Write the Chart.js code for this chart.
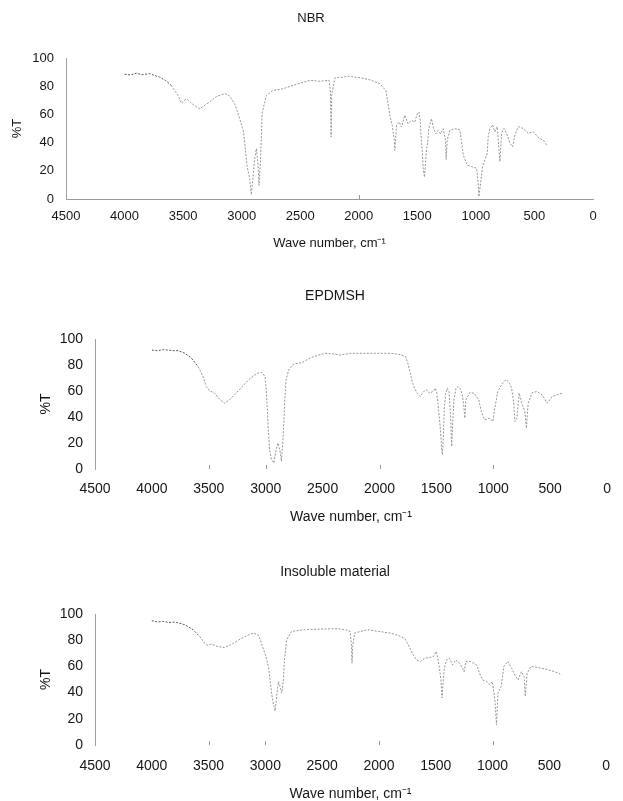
<!DOCTYPE html>
<html>
<head>
<meta charset="utf-8">
<script src="https://cdn.jsdelivr.net/npm/chart.js@4.4.1/dist/chart.umd.min.js"></script>
<style>
  html, body { margin: 0; padding: 0; background: #fff; }
  body { width: 623px; height: 801px; position: relative; overflow: hidden; }
  .panel { position: absolute; left: 0; width: 623px; }
  canvas { display: block; }
</style>
</head>
<body>
<div class="panel" style="top:0px;height:260px"><canvas id="nbr" width="623" height="260"></canvas></div>
<div class="panel" style="top:260px;height:270px"><canvas id="epdm" width="623" height="270"></canvas></div>
<div class="panel" style="top:530px;height:271px"><canvas id="insol" width="623" height="271"></canvas></div>
<script>
// FT-IR transmission spectra (wave number in cm-1, transmittance in %)
const xTicks = [4500, 4000, 3500, 3000, 2500, 2000, 1500, 1000, 500, 0];
const yTicks = [0, 20, 40, 60, 80, 100];

const nbrWave = [4000, 3950, 3900, 3850, 3786, 3740, 3701, 3650, 3601, 3544, 3515, 3490, 3467, 3416, 3359, 3274, 3216, 3145, 3108, 3060, 3017, 2983, 2966, 2955, 2932, 2917, 2903, 2889, 2874, 2860, 2852, 2840, 2831, 2826, 2789, 2732, 2647, 2561, 2419, 2333, 2254, 2242, 2236, 2231, 2205, 2091, 1991, 1906, 1821, 1769, 1750, 1735, 1715, 1698, 1692, 1678, 1655, 1635, 1607, 1579, 1550, 1521, 1501, 1485, 1473, 1464, 1456, 1450, 1439, 1430, 1421, 1413, 1402, 1379, 1365, 1342, 1322, 1302, 1279, 1259, 1254, 1245, 1222, 1179, 1137, 1122, 1108, 1074, 1036, 994, 980, 974, 960, 943, 923, 903, 895, 880, 857, 838, 818, 803, 795, 780, 761, 738, 709, 686, 667, 638, 596, 553, 510, 459, 425, 396];
const nbrT = [88.5, 88, 89.2, 88.2, 88.9, 87.5, 86.5, 84, 80.6, 73.5, 68, 70, 71, 67, 64, 68.8, 72.6, 74.7, 73.5, 67.6, 57, 47.5, 33, 24, 14.4, 3, 15.6, 28.6, 35.7, 24, 9.7, 26, 45, 60.5, 73.5, 77, 78.2, 80.6, 84.2, 83.5, 84.2, 75.9, 44, 73.5, 85.8, 87, 86, 84.6, 81.8, 77, 67.6, 59.4, 52.3, 42.8, 34.5, 52.3, 54.6, 51, 59.4, 53.4, 55.8, 54.6, 60.5, 61.7, 53.4, 39.2, 32, 21.5, 15.5, 26, 35.7, 39, 49.9, 57, 51, 46.3, 48.7, 46.3, 49.9, 41.6, 28, 41.6, 48.7, 49.9, 49, 40.4, 31.2, 24, 22.9, 21.8, 11.1, 1.6, 11.1, 22.9, 27.7, 32.4, 44.2, 50, 52.5, 47.7, 51.3, 34.8, 26.5, 46.6, 50, 46.6, 39.5, 37, 45.4, 51.3, 50, 46.6, 47.7, 43, 41.8, 38.3];

const epdmWave = [4000, 3950, 3900, 3869, 3820, 3767, 3709, 3652, 3594, 3550, 3522, 3492, 3449, 3400, 3362, 3319, 3232, 3145, 3073, 3030, 3006, 2995, 2986, 2977, 2966, 2949, 2928, 2914, 2893, 2876, 2862, 2850, 2841, 2832, 2821, 2798, 2754, 2682, 2595, 2480, 2393, 2350, 2248, 2046, 1901, 1814, 1771, 1751, 1733, 1713, 1693, 1669, 1641, 1612, 1583, 1560, 1530, 1510, 1496, 1481, 1467, 1455, 1447, 1438, 1430, 1418, 1404, 1389, 1374, 1366, 1357, 1346, 1328, 1308, 1287, 1270, 1259, 1250, 1241, 1207, 1169, 1128, 1105, 1076, 1033, 1004, 990, 961, 918, 888, 859, 839, 822, 810, 793, 773, 744, 723, 709, 694, 657, 614, 570, 527, 483, 440, 397];
const epdmT = [91.5, 91, 91.8, 91.6, 91, 91, 89, 85.2, 78.7, 71, 63.4, 60.3, 58.3, 53.2, 50.6, 53.2, 60.9, 69, 73.7, 74.1, 71, 60.9, 45.5, 30.2, 14.8, 7.1, 4.6, 12.3, 20, 14.8, 6, 20, 35.3, 53.2, 68.5, 76.2, 80.8, 81.8, 86, 89, 88.5, 87.7, 89, 89, 89, 88, 86.4, 81.3, 74.9, 67.2, 62.2, 58.3, 55.7, 59.6, 60.9, 58.3, 59.6, 62.2, 58.3, 45.5, 32.7, 17.3, 11, 27.6, 48, 58.3, 62.2, 59.6, 37.8, 17.3, 35.3, 53.2, 62.2, 63.4, 61.4, 55.7, 48, 39.1, 53.2, 58.8, 58.3, 53.2, 44.2, 37.8, 39.1, 36.5, 45, 59.6, 66, 69, 66, 62.2, 51.9, 36.5, 39.1, 58.3, 49.3, 44.2, 31.4, 50.6, 58.8, 59.6, 57, 50.6, 55.7, 57, 58.3];

const insolWave = [4000, 3950, 3898, 3850, 3796, 3709, 3637, 3579, 3536, 3507, 3478, 3420, 3362, 3305, 3232, 3160, 3102, 3058, 3030, 2995, 2971, 2957, 2943, 2928, 2914, 2899, 2885, 2871, 2856, 2841, 2832, 2812, 2769, 2654, 2509, 2364, 2292, 2254, 2242, 2237, 2231, 2214, 2103, 2003, 1901, 1829, 1771, 1727, 1699, 1669, 1635, 1597, 1554, 1519, 1496, 1482, 1467, 1453, 1444, 1435, 1424, 1404, 1380, 1352, 1322, 1293, 1265, 1250, 1235, 1192, 1139, 1115, 1087, 1053, 1026, 1002, 979, 965, 952, 924, 900, 866, 832, 797, 774, 746, 722, 712, 695, 661, 575, 506, 455, 417, 400];
const insolT = [94.9, 94, 94.3, 93.5, 93.9, 91.8, 88, 82.9, 77.8, 76, 77, 75.2, 74.4, 76.5, 80.3, 83.6, 85.5, 83.6, 76.5, 67.6, 58.7, 48.4, 38.3, 30.6, 26, 38.3, 48.4, 44.6, 39.6, 49.7, 65, 80.3, 86.7, 88, 88.5, 88.8, 88, 86.7, 76.5, 62.5, 75.2, 85.5, 88, 86.7, 85.5, 83.6, 81.1, 74, 68.9, 65, 63.7, 66.3, 66.8, 67.6, 71.4, 66.3, 58.7, 48.4, 36, 48.4, 58.7, 65, 66.3, 61.2, 65, 62.5, 58.7, 56, 63.7, 63.7, 61, 54.8, 49.7, 48.5, 46, 48.5, 34.4, 15.3, 39.5, 44.6, 60, 63.8, 58.7, 52.3, 49.7, 56, 52.3, 37, 54.8, 60, 58.7, 57.4, 56, 54.8, 53.6];

// short marks standing on the baseline
const nbrMarks = [2000];
const epdmMarks = [3500, 3000, 2000, 1000];
const insolMarks = [3500, 3000, 2000, 1000];

const FONT = "'Liberation Sans', Arial, Helvetica, sans-serif";
const INK = '#161616';

const panelTitle = {
  id: 'panelTitle',
  afterDraw(chart, args, opts) {
    const ctx = chart.ctx;
    ctx.save();
    ctx.font = opts.size + 'px ' + FONT;
    ctx.fillStyle = INK;
    ctx.textAlign = 'center';
    ctx.textBaseline = 'middle';
    ctx.fillText(opts.text, opts.x, opts.y);
    ctx.restore();
  }
};

const baseMarks = {
  id: 'baseMarks',
  afterDatasetsDraw(chart, args, opts) {
    const ctx = chart.ctx;
    const xs = chart.scales.x, ys = chart.scales.y;
    const y0 = ys.getPixelForValue(0);
    ctx.save();
    ctx.strokeStyle = '#9a9a9a';
    ctx.lineWidth = 1;
    (opts.marks || []).forEach(w => {
      const px = Math.round(xs.getPixelForValue(w)) + 0.5;
      ctx.beginPath();
      ctx.moveTo(px, y0);
      ctx.lineTo(px, y0 - 4);
      ctx.stroke();
    });
    ctx.restore();
  }
};

function makeSpectrum(id, cfg) {
  const points = cfg.wave.map((w, i) => ({ x: w, y: cfg.t[i] }));
  new Chart(document.getElementById(id), {
    type: 'line',
    data: {
      datasets: [{
        data: points,
        borderWidth: 1,
        borderDash: [2, 1.5],
        pointRadius: 0,
        tension: 0,
        segment: {
          borderColor: c => (c.p0.parsed.x > 3620 ? '#555555' : '#959595')
        }
      }]
    },
    options: {
      responsive: false,
      animation: false,
      devicePixelRatio: 1,
      layout: { padding: { left: 0, right: cfg.padRight, top: cfg.padTop, bottom: 0 } },
      plugins: {
        legend: { display: false },
        tooltip: { enabled: false },
        title: { display: false },
        panelTitle: { text: cfg.title, x: cfg.titleX, y: cfg.titleY, size: cfg.titleSize },
        baseMarks: { marks: cfg.marks }
      },
      scales: {
        x: {
          type: 'linear',
          min: 0,
          max: 4500,
          reverse: true,
          afterBuildTicks: s => { s.ticks = xTicks.map(v => ({ value: v })); },
          afterFit: s => { s.height = cfg.xHeight; },
          grid: { display: false, drawTicks: false },
          border: cfg.xBorder
            ? { display: true, color: '#9a9a9a', width: 1, dash: [2, 3] }
            : { display: false },
          ticks: {
            color: INK,
            padding: cfg.xTickPad,
            maxRotation: 0,
            autoSkip: false,
            callback: v => String(v),
            font: { family: FONT, size: cfg.tickSize }
          },
          title: {
            display: true,
            text: 'Wave number, cm\u207B\u00B9',
            color: INK,
            font: { family: FONT, size: cfg.axisSize, lineHeight: 1 },
            padding: { top: 0, bottom: cfg.xTitlePad }
          }
        },
        y: {
          min: 0,
          max: 100,
          afterBuildTicks: s => { s.ticks = yTicks.map(v => ({ value: v })); },
          afterFit: s => { s.width = cfg.yWidth; },
          grid: { display: false, drawTicks: false },
          border: { display: true, color: '#a0a0a0', width: 1, dash: [2, 2] },
          ticks: {
            color: INK,
            padding: 12,
            callback: v => String(v),
            font: { family: FONT, size: cfg.tickSize }
          },
          title: {
            display: true,
            text: '%T',
            color: INK,
            font: { family: FONT, size: cfg.axisSize, lineHeight: 1 },
            padding: { top: cfg.yTitlePad, bottom: 0 }
          }
        }
      }
    },
    plugins: [panelTitle, baseMarks]
  });
}

makeSpectrum('nbr', {
  wave: nbrWave, t: nbrT, marks: nbrMarks,
  title: 'NBR', titleX: 311, titleY: 18, titleSize: 13,
  padTop: 58, padRight: 30, yWidth: 66, xHeight: 61,
  tickSize: 13, axisSize: 13, xTickPad: 10, xTitlePad: 10, yTitlePad: 11, xBorder: true
});

makeSpectrum('epdm', {
  wave: epdmWave, t: epdmT, marks: epdmMarks,
  title: 'EPDMSH', titleX: 335, titleY: 36, titleSize: 14,
  padTop: 79, padRight: 9, yWidth: 95, xHeight: 61,
  tickSize: 14, axisSize: 14, xTickPad: 12, xTitlePad: 6, yTitlePad: 39, xBorder: false
});

makeSpectrum('insol', {
  wave: insolWave, t: insolT, marks: insolMarks,
  title: 'Insoluble material', titleX: 335, titleY: 42, titleSize: 14,
  padTop: 84, padRight: 9, yWidth: 95, xHeight: 56,
  tickSize: 14, axisSize: 14, xTickPad: 13, xTitlePad: 0, yTitlePad: 39, xBorder: false
});
</script>
</body>
</html>
